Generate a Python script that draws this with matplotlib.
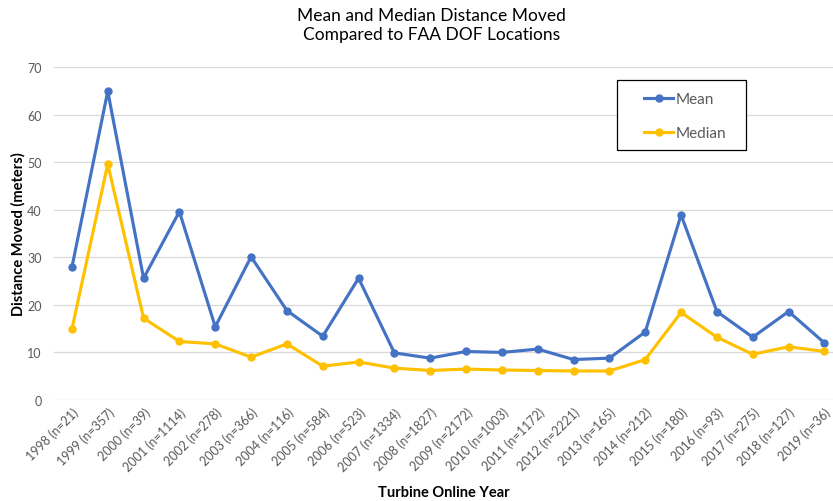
import matplotlib.pyplot as plt
from matplotlib.patches import Rectangle

plt.rcParams['font.family'] = ['Lato', 'DejaVu Sans']

# data
years = ['1998 (n=21)', '1999 (n=357)', '2000 (n=39)', '2001 (n=1114)', '2002 (n=278)',
         '2003 (n=366)', '2004 (n=116)', '2005 (n=584)', '2006 (n=523)', '2007 (n=1334)',
         '2008 (n=1827)', '2009 (n=2172)', '2010 (n=1003)', '2011 (n=1172)', '2012 (n=2221)',
         '2013 (n=165)', '2014 (n=212)', '2015 (n=180)', '2016 (n=93)', '2017 (n=275)',
         '2018 (n=127)', '2019 (n=36)']
mean_vals = [27.9, 64.9, 25.6, 39.6, 15.4, 30.1, 18.8, 13.4, 25.6, 9.9, 8.8,
             10.2, 10.0, 10.7, 8.5, 8.8, 14.3, 38.9, 18.6, 13.2, 18.6, 12.0]
median_vals = [14.9, 49.6, 17.2, 12.3, 11.8, 9.0, 11.8, 7.1, 8.0, 6.7, 6.2,
               6.5, 6.3, 6.2, 6.1, 6.1, 8.5, 18.4, 13.2, 9.6, 11.2, 10.2]

blue = '#4472C4'
gold = '#FFC000'
grey = '#595959'

fig = plt.figure(figsize=(8.33, 5.02), dpi=100)
ax = fig.add_axes([54 / 833, 101 / 502, 779 / 833, 333 / 502])

x = list(range(len(years)))
ax.plot(x, mean_vals, color=blue, lw=2.25, marker='o', ms=5, label='Mean', zorder=3)
ax.plot(x, median_vals, color=gold, lw=2.25, marker='o', ms=5, label='Median', zorder=3)

ax.set_ylim(0, 70)
ax.set_xlim(-0.5, 21.24)
ax.set_yticks(range(0, 71, 10))
ax.set_xticks(x)
ax.set_xticklabels(years, rotation=45, ha='right', rotation_mode='anchor')
ax.tick_params(axis='both', length=0, labelsize=9, colors=grey)
ax.tick_params(axis='x', pad=4)
ax.tick_params(axis='y', pad=9)
ax.grid(axis='y', color='#D9D9D9', lw=0.9)
ax.set_axisbelow(True)
for s in ax.spines.values():
    s.set_visible(False)

ax.set_ylabel('Distance Moved (meters)', fontsize=10.5, fontweight='bold', color='black')
ax.yaxis.set_label_coords(-28 / 779, 0.5)
ax.set_xlabel('Turbine Online Year', fontsize=10.5, fontweight='bold', color='black', labelpad=9)
fig.text(0.518, 0.985, 'Mean and Median Distance Moved\nCompared to FAA DOF Locations',
         ha='center', va='top', fontsize=12.5, color='black', linespacing=1.25)

# legend: box drawn separately (x 617-746, y 81-151 px in the reference)
box = Rectangle((563 / 779, 250 / 333), 129 / 779, 70 / 333, transform=ax.transAxes,
                fill=True, facecolor='white', edgecolor='black', lw=0.9, zorder=4)
ax.add_patch(box)
leg = ax.legend(loc='upper left', bbox_to_anchor=(590 / 779, 308 / 333), frameon=False,
                fontsize=11, handlelength=1.9, handletextpad=0.2,
                labelspacing=1.3, borderpad=0, borderaxespad=0)
leg.set_zorder(5)
for t in leg.get_texts():
    t.set_color(grey)

fig.savefig('out.png', dpi=100)
